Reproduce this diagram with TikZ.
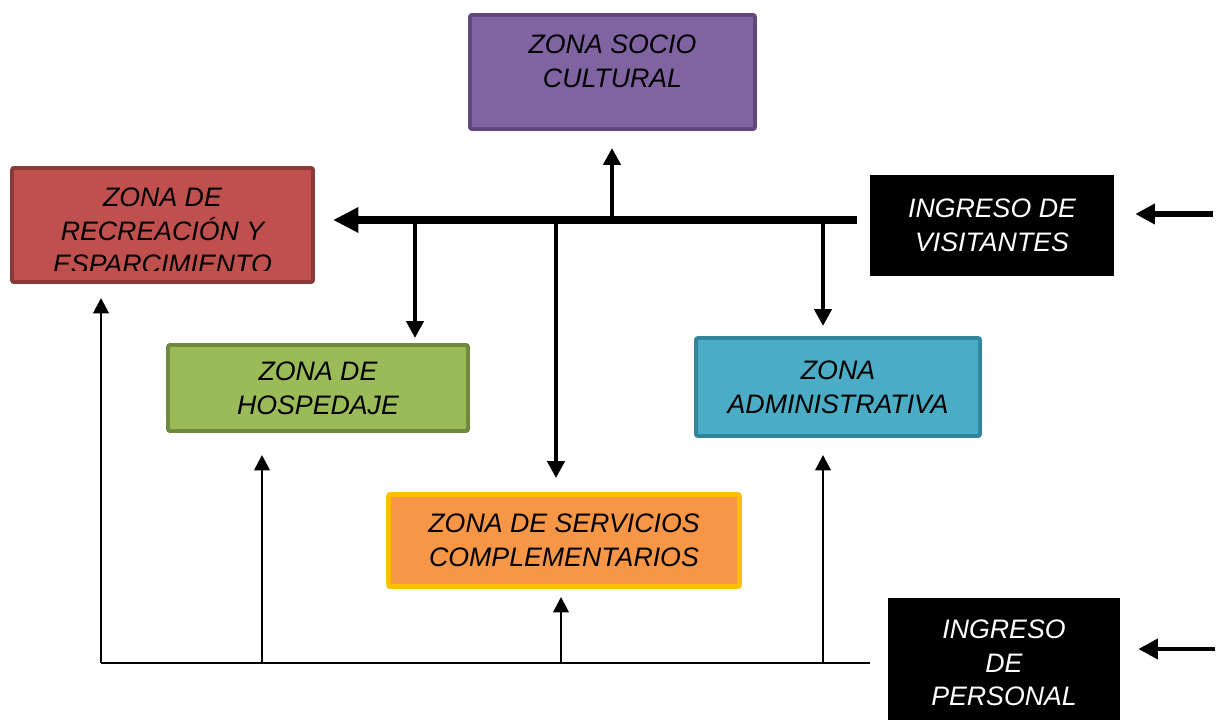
\documentclass[tikz,border=0pt]{standalone}
\usepackage{fontspec}
\setmainfont{Liberation Sans}
\usetikzlibrary{positioning,arrows.meta}
\definecolor{socfill}{HTML}{8064A2}
\definecolor{socline}{HTML}{5F497A}
\definecolor{recfill}{HTML}{C0504D}
\definecolor{recline}{HTML}{8C3A38}
\definecolor{hosfill}{HTML}{9BBB59}
\definecolor{hosline}{HTML}{71893F}
\definecolor{admfill}{HTML}{4BACC6}
\definecolor{admline}{HTML}{31859C}
\definecolor{serfill}{HTML}{F79646}
\definecolor{serline}{HTML}{FFC000}
\newcommand\pxu{0.025cm}

\begin{document}
\begin{tikzpicture}[x=0.025cm, y=-0.025cm,
    every node/.style={align=center, font=\fontsize{19}{24}\selectfont\itshape},
    zone/.style={draw, line width=2.8pt, rounded corners=1.5pt, inner sep=0pt},
    entry/.style={fill=black, text=white, inner sep=0pt},
    bus/.style={line width=5.5pt, -{Triangle[length=18pt,width=17pt]}},
    branch/.style={line width=3.4pt, -{Triangle[length=12pt,width=12pt]}},
    supply/.style={line width=1.9pt, -{Triangle[length=11pt,width=11pt]}},
    feed/.style={line width=4.2pt, -{Triangle[length=14pt,width=14pt]}}]
    \useasboundingbox (0,0) rectangle (1223,720);
    % zones
    \node[zone, fill=socfill, draw=socline, minimum width=285*\pxu, minimum height=114*\pxu] (soc) at (612.5,72) {};
    \node (soctext) at ([yshift=10.5*\pxu]soc.center) {ZONA SOCIO\\CULTURAL};
    \node[zone, fill=recfill, draw=recline, minimum width=301*\pxu, minimum height=114*\pxu] (rec) at (162.5,225) {};
    \begin{scope}
        \clip (10,166) rectangle (315,271);
        \node (rectext) at ([yshift=-6*\pxu]rec.center) {ZONA DE\\RECREACIÓN Y\\ESPARCIMIENTO};
    \end{scope}
    \node[zone, fill=hosfill, draw=hosline, minimum width=300*\pxu, minimum height=86*\pxu] (hos) at (318,388) {ZONA DE\\HOSPEDAJE};
    \node[zone, fill=admfill, draw=admline, minimum width=284*\pxu, minimum height=98*\pxu] (adm) at (838,387) {ZONA\\ADMINISTRATIVA};
    \node[zone, fill=serfill, draw=serline, line width=3.5pt, minimum width=351*\pxu, minimum height=92*\pxu] (ser) at (564,540.5) {ZONA DE SERVICIOS\\COMPLEMENTARIOS};
    % entrances
    \node[entry, minimum width=244*\pxu, minimum height=101*\pxu] (vis) at (992,225.5) {INGRESO DE\\VISITANTES};
    \node[entry, minimum width=232*\pxu, minimum height=130*\pxu] (per) at (1004,663) {INGRESO\\DE\\PERSONAL};
    % visitors
    \coordinate (busE) at (857,220);
    \coordinate (busW) at (333,220);
    \coordinate (bsoc) at (612,220);
    \coordinate (bhos) at (415,220);
    \coordinate (bser) at (556,220);
    \coordinate (badm) at (823,220);
    \draw[bus] (busE) -- (busW);
    \draw[branch, shorten >=17*\pxu] (bsoc) -- (bsoc |- soc.south);
    \draw[branch, shorten >=5*\pxu] (bhos) -- (bhos |- hos.north);
    \draw[branch, shorten >=14*\pxu] (bser) -- (bser |- ser.north);
    \draw[branch, shorten >=10*\pxu] (badm) -- (badm |- adm.north);
    \coordinate (visR) at (1213,214);
    \draw[feed, shorten >=21*\pxu] (visR) -- (visR -| vis.east);
    % staff
    \coordinate (perW) at (101,663);
    \coordinate (perE) at (870,663);
    \coordinate (phos) at (262,663);
    \coordinate (pser) at (561,663);
    \coordinate (padm) at (823,663);
    \draw[line width=1.4pt] (perW) -- (perE);
    \draw[supply, shorten >=14*\pxu] (perW) -- (perW |- rec.south);
    \draw[supply, shorten >=22*\pxu] (phos) -- (phos |- hos.south);
    \draw[supply, shorten >=8*\pxu] (pser) -- (pser |- ser.south);
    \draw[supply, shorten >=17*\pxu] (padm) -- (padm |- adm.south);
    \coordinate (perR) at (1215,649);
    \draw[feed, line width=3.5pt, shorten >=18*\pxu] (perR) -- (perR -| per.east);
\end{tikzpicture}
\end{document}
